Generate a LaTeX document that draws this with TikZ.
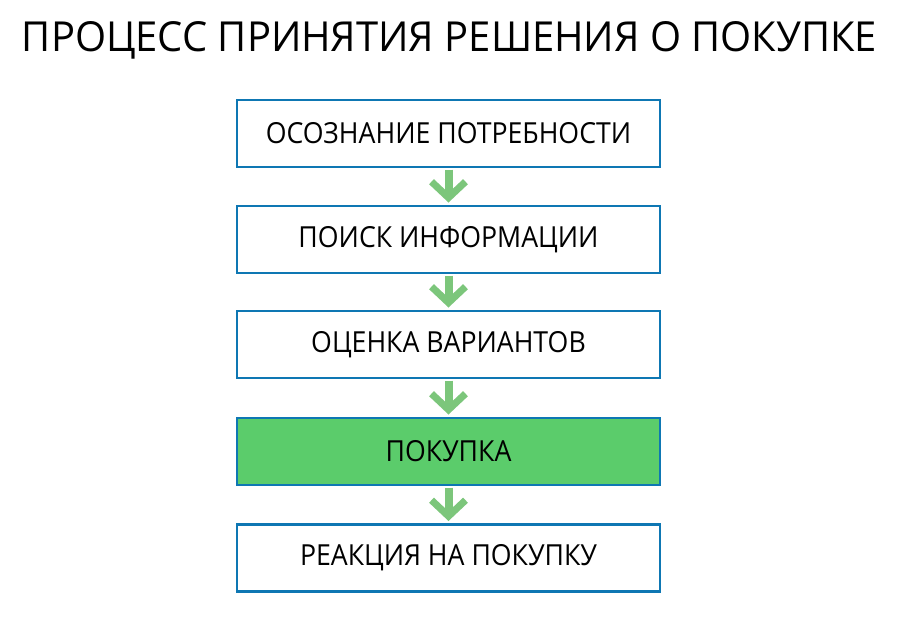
\documentclass[tikz,border=0pt]{standalone}
\usepackage{fontspec}
\setmainfont{Open Sans}
\newfontfamily\boxfont[FakeStretch=0.92]{Open Sans}
\usetikzlibrary{calc}
\definecolor{boxblue}{HTML}{0E77B3}
\definecolor{boxgreen}{HTML}{5BCC6B}
\definecolor{arrgreen}{HTML}{7CC67B}
\begin{document}
\begin{tikzpicture}[x=1pt,y=-1pt,
  stage/.style={draw=boxblue,line width=2.6pt,minimum width=423pt,minimum height=67pt,inner sep=0pt,fill=white,font=\boxfont\fontsize{29}{32}\selectfont},
  shaft/.style={draw=arrgreen,line width=8pt},
  chev/.style={draw=arrgreen,line width=7pt,miter limit=10}]
\useasboundingbox (0,0) rectangle (898,631);
\node[anchor=base] (title) at (449.5,52) {\resizebox{855pt}{30pt}{ПРОЦЕСС ПРИНЯТИЯ РЕШЕНИЯ О ПОКУПКЕ}};
\node[stage] (s1) at (448.5,133.5) {ОСОЗНАНИЕ ПОТРЕБНОСТИ};
\node[stage] (s2) at (448.5,239.5) {ПОИСК ИНФОРМАЦИИ};
\node[stage] (s3) at (448.5,344.5) {ОЦЕНКА ВАРИАНТОВ};
\node[stage,fill=boxgreen] (s4) at (448.5,451.5) {ПОКУПКА};
\node[stage] (s5) at (448.5,558) {РЕАКЦИЯ НА ПОКУПКУ};
\foreach \a/\b in {s1/s2,s2/s3,s3/s4,s4/s5}{
  \coordinate (tip) at ($(\b.north)+(0,-7)$);
  \draw[shaft] ($(\a.south)+(0,1.3)$) -- ($(tip)+(0,-3)$);
  \draw[chev] ($(tip)+(-17,-16)$) -- (tip) -- ($(tip)+(17,-16)$);
}
\end{tikzpicture}
\end{document}
